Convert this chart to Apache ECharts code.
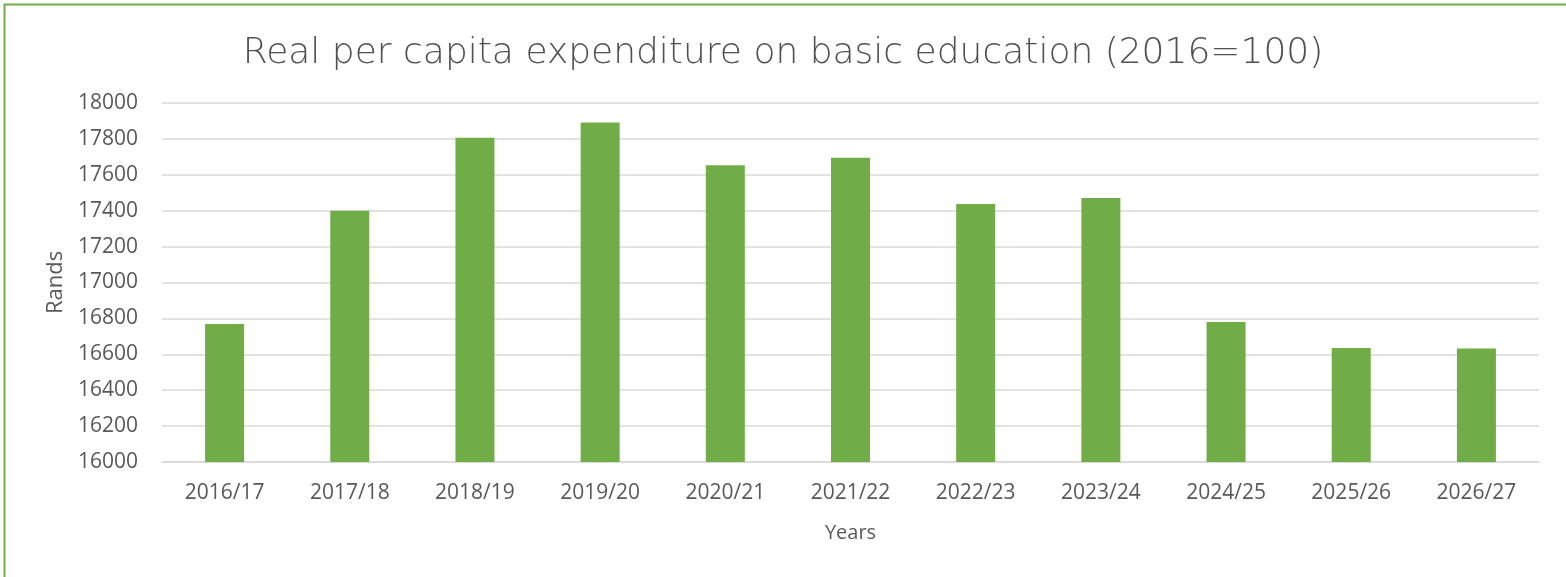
<!DOCTYPE html>
<html>
<head>
<meta charset="utf-8">
<script src="https://cdn.jsdelivr.net/npm/echarts@6/dist/echarts.min.js"></script>
<style>html,body{margin:0;padding:0;background:#fff;}#c{width:1566px;height:577px;}</style>
</head>
<body>
<div id="c"></div>
<script>
const titleText = 'Real per capita expenditure on basic education (2016=100)';
const categories = ['2016/17','2017/18','2018/19','2019/20','2020/21','2021/22','2022/23','2023/24','2024/25','2025/26','2026/27'];
const values = [16769, 17400, 17807, 17892, 17653, 17695, 17437, 17471, 16780, 16635, 16633];
const yAxisName = 'Rands';
const xAxisName = 'Years';

const chart = echarts.init(document.getElementById('c'));
const textColor = '#595959';
const labelFont = 'Open Sans';
chart.setOption({
  animation: false,
  backgroundColor: '#ffffff',
  title: {
    text: titleText,
    left: 'center',
    top: 31,
    textStyle: { fontFamily: 'DejaVu Sans', fontWeight: 200, fontSize: 36, color: '#505050' }
  },
  graphic: [{
    type: 'rect',
    shape: { x: 4.5, y: 4.5, width: 1600, height: 600 },
    style: { fill: 'none', stroke: '#70AD47', lineWidth: 2 },
    silent: true
  }],
  grid: { left: 162, right: 27, top: 103, bottom: 115 },
  xAxis: {
    type: 'category',
    data: categories,
    name: xAxisName,
    nameLocation: 'middle',
    nameGap: 61,
    nameTextStyle: { fontFamily: labelFont, fontSize: 20, color: textColor },
    axisLine: { lineStyle: { color: '#D9D9D9', width: 1.5 } },
    axisTick: { show: false },
    axisLabel: { fontFamily: labelFont, fontSize: 21, color: textColor, margin: 21 }
  },
  yAxis: {
    type: 'value',
    min: 16000,
    max: 18000,
    interval: 200,
    name: yAxisName,
    nameLocation: 'middle',
    nameGap: 88,
    nameTextStyle: { fontFamily: labelFont, fontSize: 22, color: textColor },
    axisLine: { show: false },
    axisTick: { show: false },
    axisLabel: { fontFamily: labelFont, fontSize: 21, color: textColor, margin: 24, formatter: v => String(v) },
    splitLine: { lineStyle: { color: '#D9D9D9', width: 1.5 } }
  },
  series: [{
    type: 'bar',
    data: values,
    barWidth: 39,
    itemStyle: { color: '#70AD47' }
  }]
});
</script>
</body>
</html>
